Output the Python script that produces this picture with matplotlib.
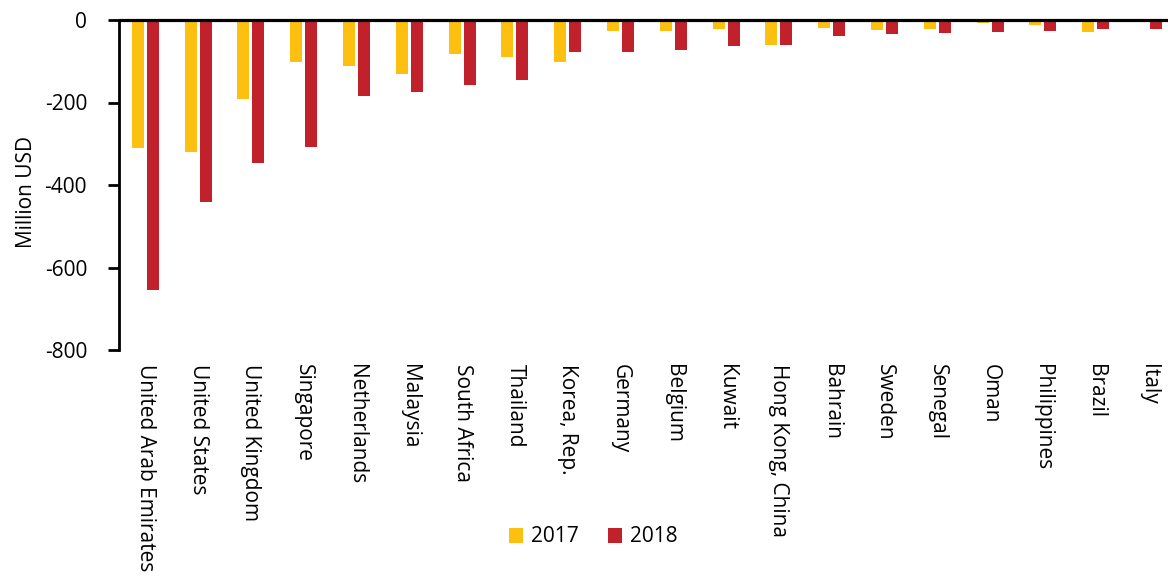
import numpy as np
import matplotlib
matplotlib.use("Agg")
import matplotlib.pyplot as plt
from matplotlib.patches import Patch

countries = ["United Arab Emirates", "United States", "United Kingdom", "Singapore",
             "Netherlands", "Malaysia", "South Africa", "Thailand", "Korea, Rep.",
             "Germany", "Belgium", "Kuwait", "Hong Kong, China", "Bahrain", "Sweden",
             "Senegal", "Oman", "Philippines", "Brazil", "Italy"]
v2017 = [-310, -319, -191, -101, -112, -132, -82, -90, -101,
         -27, -27, -23, -61, -19, -25, -21, -8, -11, -28, 0]
v2018 = [-655, -441, -346, -309, -184, -174, -158, -146, -77,
         -77, -73, -62, -61, -39, -33, -32, -28, -26, -23, -23]
yticks = [0, -200, -400, -600, -800]
series_labels = ["2017", "2018"]
colors = ["#FDC010", "#C1212A"]

plt.rcParams['font.family'] = ['Open Sans', 'DejaVu Sans']
FS = 15

W, H = 1168, 577
fig = plt.figure(figsize=(W / 100, H / 100), dpi=100)
ax = fig.add_axes([119 / W, 1 - 350 / H, 1 - 119 / W, (350 - 20) / H])

x = np.arange(len(countries))
bw = 0.227
off = 0.142
ax.bar(x - off, v2017, width=bw, color=colors[0], linewidth=0)
ax.bar(x + off, v2018, width=bw, color=colors[1], linewidth=0)

ax.set_xlim(-0.5, 19.37)
ax.set_ylim(-800, 0)
ax.set_yticks(yticks)
ax.set_yticklabels([str(t) for t in yticks], fontsize=FS)
ax.tick_params(axis='y', direction='out', length=8, width=2, pad=15, colors='black')
ax.set_xticks(x)
ax.set_xticklabels(countries, rotation=-90, fontsize=FS, va='top', ha='center')
ax.tick_params(axis='x', length=0, pad=10)

for s in ['right', 'bottom']:
    ax.spines[s].set_visible(False)
ax.spines['left'].set_linewidth(2)
ax.spines['top'].set_linewidth(2.3)
ax.spines['top'].set_capstyle('butt')

ax.set_ylabel("Million USD", fontsize=FS)
ax.yaxis.set_label_coords(-0.078, 0.48)

handles = [Patch(facecolor=c, edgecolor='none') for c in colors]
fig.legend(handles, series_labels, loc='center', bbox_to_anchor=(593 / W, 1 - 537 / H),
           ncol=2, frameon=False, fontsize=FS, handlelength=0.7, handleheight=0.7,
           handletextpad=0.35, columnspacing=1.4, borderpad=0)

fig.savefig("out.png", dpi=100)
